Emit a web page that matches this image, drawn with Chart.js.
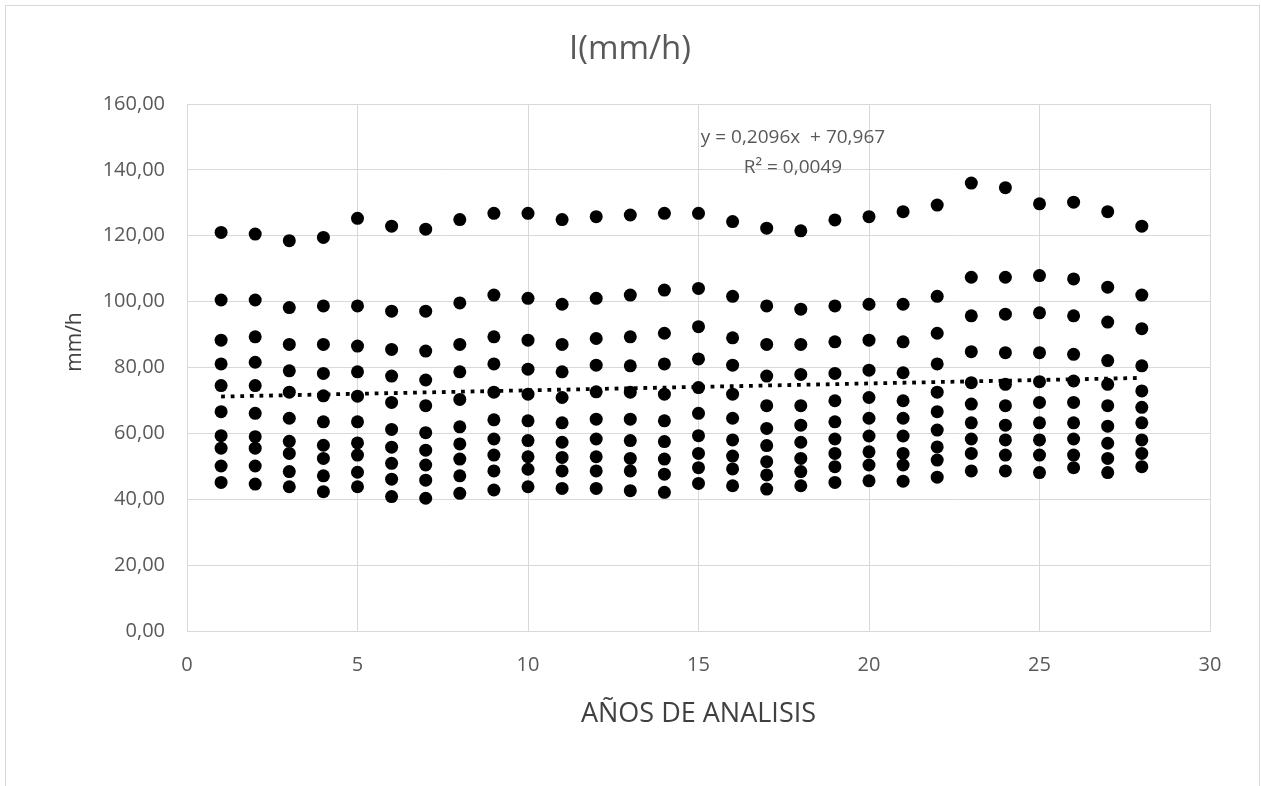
<!DOCTYPE html>
<html>
<head>
<meta charset="utf-8">
<script src="https://cdn.jsdelivr.net/npm/chart.js@4.4.1/dist/chart.umd.min.js"></script>
<style>
  html, body { margin: 0; padding: 0; background: #fff; }
  #wrap { width: 1261px; height: 786px; position: relative; }
</style>
</head>
<body>
<div id="wrap"><canvas id="c" width="1261" height="786"></canvas></div>
<script>
// ---- DATA ----
const years = [1,2,3,4,5,6,7,8,9,10,11,12,13,14,15,16,17,18,19,20,21,22,23,24,25,26,27,28];
const row1  = [121.0,120.5,118.5,119.5,125.3,122.9,122.0,124.9,126.8,126.8,124.9,125.8,126.3,126.8,126.8,124.3,122.3,121.5,124.8,125.8,127.3,129.3,136.0,134.6,129.7,130.2,127.3,122.9];
const row2  = [100.5,100.5,98.2,98.7,98.7,97.1,97.1,99.6,102.0,101.0,99.2,101.0,102.0,103.5,104.0,101.6,98.7,97.7,98.7,99.2,99.2,101.6,107.4,107.4,107.9,106.9,104.4,102.0];
const row3  = [88.3,89.3,87.0,87.0,86.5,85.5,85.0,87.0,89.3,88.3,87.0,88.8,89.3,90.4,92.4,89.0,87.0,87.0,87.8,88.3,87.8,90.4,95.7,96.2,96.6,95.7,93.8,91.8];
const row4  = [81.1,81.6,79.0,78.2,78.7,77.4,76.2,78.7,81.1,79.5,78.7,80.7,80.5,81.1,82.6,80.7,77.4,77.9,78.2,79.2,78.4,81.1,84.8,84.5,84.5,84.0,82.1,80.5];
const row5  = [74.5,74.5,72.5,71.4,71.3,69.4,68.4,70.3,72.5,71.9,70.9,72.6,72.5,71.9,73.9,71.9,68.4,68.4,69.9,70.9,69.9,72.5,75.4,74.9,75.7,75.9,74.9,72.9];
const row6  = [66.6,66.1,64.6,63.5,63.5,61.2,60.2,62.0,64.1,63.8,63.2,64.3,64.3,63.8,66.1,64.6,61.5,62.5,63.5,64.6,64.6,66.6,68.9,68.4,69.4,69.4,68.4,67.9];
const row7  = [59.3,59.0,57.6,56.4,57.1,55.8,54.9,56.8,58.3,57.8,57.3,58.3,57.8,57.5,59.3,58.0,56.3,57.3,58.3,59.2,59.2,61.0,63.2,62.5,63.2,63.2,62.2,63.2];
const row8  = [55.5,55.5,53.9,52.4,53.4,50.9,50.4,52.2,53.4,52.9,52.7,52.9,52.4,52.2,53.9,53.1,51.4,52.4,53.9,54.4,53.9,55.9,58.3,58.0,58.0,58.3,57.0,58.0];
const row9  = [50.1,50.1,48.4,47.1,48.2,46.1,45.8,47.1,48.6,49.1,48.6,48.6,48.6,47.6,49.6,49.2,47.4,48.4,49.9,50.4,50.4,51.9,53.9,53.4,53.4,53.4,52.4,53.9];
const row10 = [45.1,44.6,43.8,42.3,43.8,40.8,40.3,41.8,42.8,43.8,43.3,43.3,42.6,42.1,44.8,44.1,43.1,44.1,45.1,45.6,45.5,46.7,48.6,48.6,48.1,49.6,48.1,49.9];
const rows = [row1,row2,row3,row4,row5,row6,row7,row8,row9,row10];
// trendline end points as printed by the equation label (y = 0,2096x + 70,967)
const trendX = [1, 28];
const trendY = [71.18, 76.84];
const xTicks = [0,5,10,15,20,25,30];
const yTicks = [0,20,40,60,80,100,120,140,160];
const titleText = 'I(mm/h)';
const xTitle = 'AÑOS DE ANALISIS';
const yTitle = 'mm/h';
const eqLine1 = 'y = 0,2096x  + 70,967';
const eqLine2 = 'R² = 0,0049';

const FONT = "'Open Sans', 'DejaVu Sans', sans-serif";
const TXT = '#595959';

const points = [];
rows.forEach(r => r.forEach((v, i) => points.push({x: years[i], y: v})));
const trend = trendX.map((x, i) => ({x: x, y: trendY[i]}));

const framePlugin = {
  id: 'frame',
  beforeDraw(chart) {
    const ctx = chart.ctx;
    ctx.save();
    ctx.fillStyle = '#fff';
    ctx.fillRect(0, 0, chart.width, chart.height);
    ctx.strokeStyle = '#d9d9d9';
    ctx.lineWidth = 1;
    ctx.strokeRect(5.5, 5.5, 1254, 820);
    ctx.restore();
  },
  afterDraw(chart) {
    const ctx = chart.ctx;
    const xs = chart.scales.x, ys = chart.scales.y;
    ctx.save();
    ctx.textAlign = 'center';
    ctx.textBaseline = 'middle';
    // chart title
    ctx.fillStyle = TXT;
    ctx.font = "33px " + FONT;
    ctx.fillText(titleText, 630, 50);
    // trendline equation
    ctx.font = "19px " + FONT;
    ctx.fillText(eqLine1, xs.getPixelForValue(17.77), ys.getPixelForValue(149.7));
    ctx.fillText(eqLine2, xs.getPixelForValue(17.77), ys.getPixelForValue(140.6));
    // y axis title
    ctx.fillStyle = '#404040';
    ctx.font = "21px " + FONT;
    ctx.translate(75, 342);
    ctx.rotate(-Math.PI / 2);
    ctx.fillText(yTitle, 0, 0);
    ctx.restore();
  }
};

new Chart(document.getElementById('c'), {
  type: 'scatter',
  data: {
    datasets: [
      {
        type: 'line',
        label: 'Lineal',
        data: trend,
        borderColor: '#000',
        borderWidth: 3.8,
        borderDash: [3.8, 5.8],
        borderCapStyle: 'butt',
        pointRadius: 0,
        fill: false,
        order: 0
      },
      {
        label: 'I(mm/h)',
        data: points,
        backgroundColor: '#000',
        borderColor: '#000',
        borderWidth: 0,
        pointRadius: 6.5,
        pointHoverRadius: 6.5,
        order: 1
      }
    ]
  },
  options: {
    responsive: false,
    animation: false,
    devicePixelRatio: 1,
    layout: { padding: { top: 104, left: 0, right: 51, bottom: 0 } },
    plugins: {
      legend: { display: false },
      tooltip: { enabled: false },
      title: { display: false }
    },
    scales: {
      x: {
        type: 'linear',
        min: 0, max: 30,
        afterBuildTicks(s) { s.ticks = xTicks.map(v => ({value: v})); },
        afterFit(s) { s.height = 155; },
        grid: { color: '#d9d9d9', drawTicks: false, lineWidth: 1 },
        border: { color: '#d9d9d9' },
        ticks: { color: TXT, font: { family: FONT, size: 20 }, padding: 22 },
        title: {
          display: true, text: xTitle, color: '#404040',
          font: { family: FONT, size: 27 }, padding: { bottom: 55 }
        }
      },
      y: {
        type: 'linear',
        min: 0, max: 160,
        afterBuildTicks(s) { s.ticks = yTicks.map(v => ({value: v})); },
        afterFit(s) { s.width = 187; },
        grid: { color: '#d9d9d9', drawTicks: false, lineWidth: 1 },
        border: { display: false },
        ticks: {
          color: TXT, font: { family: FONT, size: 20 }, padding: 22,
          callback: v => v.toFixed(2).replace('.', ',')
        }
      }
    }
  },
  plugins: [framePlugin]
});
</script>
</body>
</html>
